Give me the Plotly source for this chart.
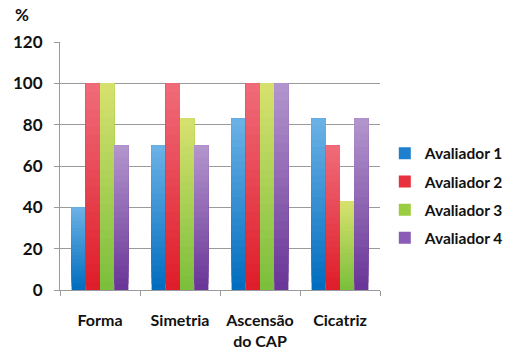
import plotly.graph_objects as go

categorias = ["Forma", "Simetria", "Ascensão<br>do CAP", "Cicatriz"]
avaliador_1 = [40, 70, 83, 83]
avaliador_2 = [100, 100, 100, 70]
avaliador_3 = [100, 83, 100, 43]
avaliador_4 = [70, 70, 100, 83]
series = ["Avaliador 1", "Avaliador 2", "Avaliador 3", "Avaliador 4"]
valores = [avaliador_1, avaliador_2, avaliador_3, avaliador_4]
y_ticks = [0, 20, 40, 60, 80, 100, 120]

# (bottom colour, top colour) of the vertical gradient for each series
gradientes = [
    ((0, 108, 190), (108, 178, 230)),
    ((222, 28, 40), (240, 108, 122)),
    ((122, 190, 60), (216, 226, 110)),
    ((104, 52, 150), (180, 150, 206)),
]
legenda_cor = ["#1f7fcf", "#e8303e", "#9acd40", "#8a5cb8"]
N_FAIXAS = 24


def mistura(c0, c1, t):
    return "rgb(%d,%d,%d)" % tuple(round(a + (b - a) * t) for a, b in zip(c0, c1))


fig = go.Figure()
for s, (nome, vals, (c_baixo, c_topo)) in enumerate(zip(series, valores, gradientes)):
    # each bar is painted as overlapping layers reaching its top, each starting
    # a little higher and lighter, so it fades from dark to light
    for k in range(N_FAIXAS):
        t = (k + 0.5) / N_FAIXAS
        base = [v * k / N_FAIXAS for v in vals]
        fig.add_trace(go.Bar(
            x=categorias,
            y=[v - b for v, b in zip(vals, base)],
            base=base,
            offsetgroup=str(s),
            legendgroup=nome,
            name=nome,
            showlegend=False,
            marker=dict(color=mistura(c_baixo, c_topo, t), line=dict(width=0)),
            hoverinfo="skip",
        ))
    fig.add_trace(go.Bar(
        x=[categorias[0]], y=[0], offsetgroup=str(s), legendgroup=nome, name=nome,
        marker=dict(color=legenda_cor[s], line=dict(width=0)), showlegend=True,
        hoverinfo="skip",
    ))

familia = "Lato, 'Open Sans', sans-serif"
fonte = dict(family=familia, size=17, color="#111111", weight="bold")
fonte_x = dict(family=familia, size=16, color="#111111", weight="bold")

fig.update_layout(
    width=510, height=353,
    margin=dict(l=60, r=130, t=42, b=63, autoexpand=False),
    paper_bgcolor="white", plot_bgcolor="white",
    barmode="group", bargap=0.29, bargroupgap=0,
    font=fonte,
    showlegend=True,
    legend=dict(
        x=1.015, y=0.38, xanchor="left", yanchor="middle",
        font=dict(family=familia, size=15.5, color="#111111", weight="bold"),
        itemwidth=30, tracegroupgap=5, bgcolor="rgba(0,0,0,0)",
    ),
    xaxis=dict(
        showgrid=False, showline=True, linecolor="#9a9a9a", linewidth=1,
        ticks="outside", tickson="boundaries", ticklen=5, tickcolor="#9a9a9a",
        tickfont=fonte_x, tickangle=0, ticklabelstandoff=16, automargin=False,
    ),
    yaxis=dict(
        range=[0, 120], tickvals=y_ticks, showgrid=True, gridcolor="#9a9a9a", gridwidth=1,
        showline=True, linecolor="#9a9a9a", linewidth=1,
        ticks="outside", ticklen=5, tickcolor="#9a9a9a", tickfont=fonte,
        ticklabelstandoff=8, zeroline=False, automargin=False,
    ),
    annotations=[dict(
        text="%", x=-0.12, y=1.06, xref="paper", yref="paper",
        xanchor="center", yanchor="bottom", showarrow=False, font=fonte,
    )],
)

fig.write_html("out.html")
